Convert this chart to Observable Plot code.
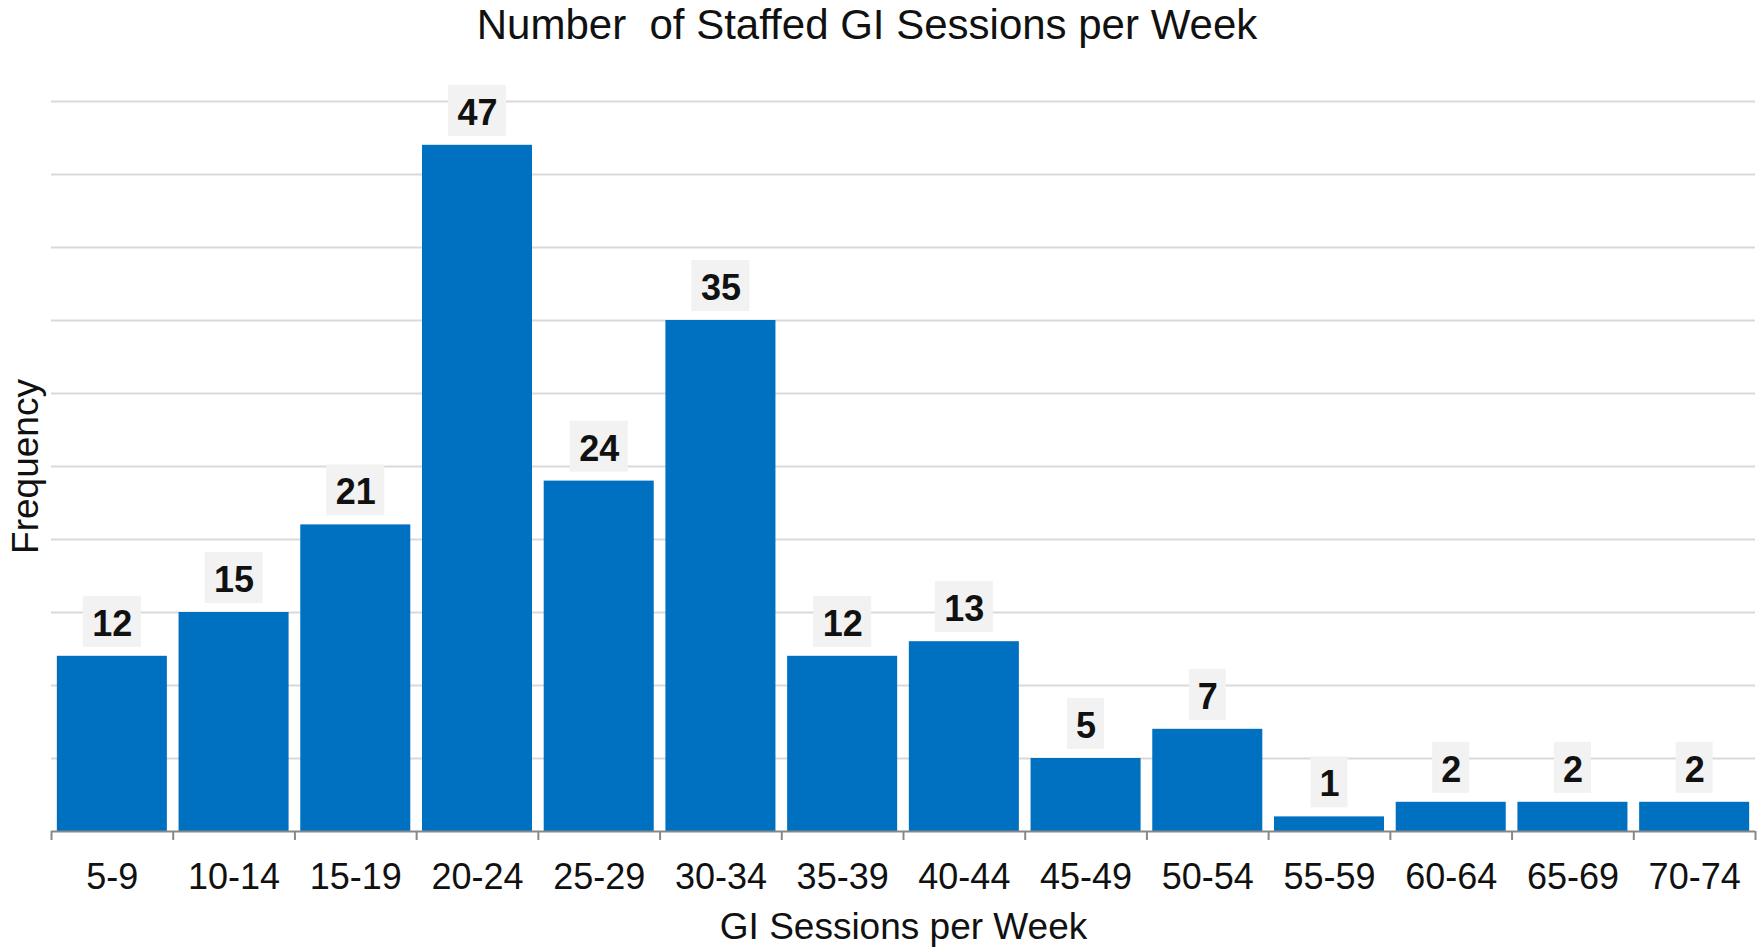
<!DOCTYPE html>
<html>
<head>
<meta charset="utf-8">
<script src="https://cdn.jsdelivr.net/npm/d3@7"></script>
<script src="https://cdn.jsdelivr.net/npm/@observablehq/plot@0.6"></script>
<style>
  html, body { margin: 0; padding: 0; background: white; }
  #title { width: 1734px; height: 50px; line-height: 50px; text-align: center;
    font-family: "Liberation Sans", Arial, sans-serif; font-size: 42px; color: #111; white-space: pre; }
</style>
</head>
<body>
<div id="title">Number  of Staffed GI Sessions per Week</div>
<div id="chart"></div>
<script>
const categories = ["5-9","10-14","15-19","20-24","25-29","30-34","35-39","40-44","45-49","50-54","55-59","60-64","65-69","70-74"];
const counts = [12,15,21,47,24,35,12,13,5,7,1,2,2,2];
const gridTicks = [5,10,15,20,25,30,35,40,45,50];
const xTitle = "GI Sessions per Week";
const yTitle = "Frequency";

const data = categories.map((c, i) => ({cat: c, n: counts[i], label: String(counts[i])}));
const W = 1758, H = 897, mL = 51, mR = 3, mT = 51, mB = 116;
const step = (W - mL - mR) / categories.length;

const chart = Plot.plot({
  width: W, height: H,
  marginLeft: mL, marginRight: mR, marginTop: mT, marginBottom: mB,
  style: {fontFamily: "'Liberation Sans', Arial, sans-serif", fontSize: "36px", color: "#111", background: "white"},
  x: {domain: categories, paddingInner: 0.096, paddingOuter: 0.048, round: false, label: null},
  y: {domain: [0, 50], label: null, axis: null},
  marks: [
    Plot.gridY(gridTicks, {stroke: "#d9d9d9", strokeOpacity: 1, strokeWidth: 2}),
    Plot.barY(data, {x: "cat", y: "n", fill: "#0070c0"}),
    Plot.barY(data.filter(d => d.label.length > 1), {x: "cat", y1: "n", y2: "n", fill: "#f2f2f2", insetTop: -60, insetBottom: 9, insetLeft: 26, insetRight: 26}),
    Plot.barY(data.filter(d => d.label.length === 1), {x: "cat", y1: "n", y2: "n", fill: "#f2f2f2", insetTop: -60, insetBottom: 9, insetLeft: 36.5, insetRight: 36.5}),
    Plot.text(data, {x: "cat", y: "n", text: "label", dy: -32, fontWeight: "bold", fontSize: 36, fill: "#111"}),
    Plot.ruleY([0], {stroke: "#888", strokeWidth: 2}),
    Plot.ruleX(categories, {x: d => d, y1: 0, y2: 0, insetBottom: -9, dx: -step / 2, stroke: "#888", strokeWidth: 2}),
    Plot.ruleX([categories[categories.length - 1]], {x: d => d, y1: 0, y2: 0, insetBottom: -9, dx: step / 2, stroke: "#888", strokeWidth: 2}),
    Plot.axisX({tickSize: 0, tickPadding: 32, fontSize: 36, label: null}),
    Plot.text([yTitle], {frameAnchor: "left", textAnchor: "middle", lineAnchor: "middle", rotate: -90, dx: -25, fontSize: 37, fill: "#111"}),
    Plot.text([xTitle], {frameAnchor: "bottom", textAnchor: "middle", lineAnchor: "middle", dy: 96, fontSize: 37, fill: "#111"})
  ]
});
document.getElementById("chart").appendChild(chart);
</script>
</body>
</html>
